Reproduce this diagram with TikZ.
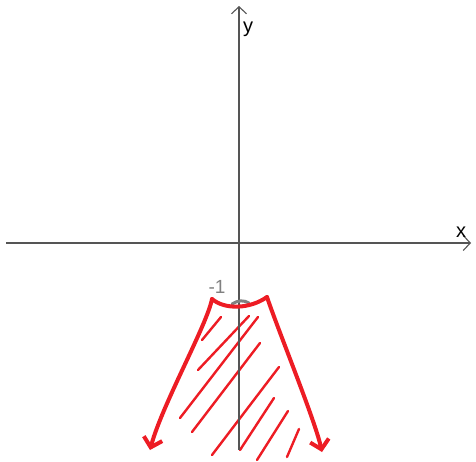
\documentclass[tikz,border=0pt]{standalone}
\usepackage{fontspec}
\setmainfont{Liberation Sans}
\usetikzlibrary{arrows.meta}
\definecolor{penred}{RGB}{237,28,36}
\definecolor{axisgray}{RGB}{85,85,85}
\definecolor{pencilgray}{RGB}{128,128,128}
\tikzset{
  axisline/.style={-{Straight Barb[length=7pt,width=15pt]}, line width=1.1pt, axisgray},
  axislabel/.style={font=\fontsize{20}{20}\selectfont, inner sep=0pt, text=black},
  boundary/.style={penred, line width=4pt, line cap=round, line join=round},
  boundarr/.style={boundary, -{Straight Barb[length=9pt,width=19pt]}},
  hatchline/.style={penred, line width=2.4pt, line cap=round},
  pencil/.style={pencilgray, line width=3pt, line cap=round},
}

\begin{document}
\begin{tikzpicture}[x=1pt,y=-1pt]
  \useasboundingbox (0,0) rectangle (476,461);
  % hatching inside the region
  \foreach \ax/\ay/\bx/\by in {221/317/202/340, 249/316/198/370,
      258/317/180/418, 260/343/192/432, 279/367/212/455,
      274/398/240/450, 288/411/257/460, 299/429/287/457}
    \draw[hatchline] (\ax,\ay) -- (\bx,\by);
  % axes
  \coordinate (xl) at (6,243);
  \coordinate (xr) at (471,243);
  \coordinate (yb) at (239,450);
  \coordinate (yt) at (239,6);
  \draw[axisline] (xl) -- (xr);
  \draw[axisline] (yb) -- (yt);
  \node[axislabel] (xlab) at (461,232) {x};
  \node[axislabel] (ylab) at (248,29) {y};
  % mark at -1
  \node[font=\fontsize{19}{19}\selectfont, text=pencilgray, inner sep=0pt] (mone) at (217,287) {-1};
  \draw[pencil] (232,304) .. controls (238,300) and (244,300) .. (249,303);
  % boundary
  \coordinate (capl) at (212,299);
  \coordinate (capr) at (267,297);
  \coordinate (tipl) at (150,450);
  \coordinate (tipr) at (322,452);
  \draw[boundary] (capl) .. controls (225,310) and (250,309) .. (capr);
  \draw[boundarr] (capl) .. controls (207,325) and (162,405) .. (tipl);
  \draw[boundarr] (capr) .. controls (278,330) and (315,420) .. (tipr);
\end{tikzpicture}
\end{document}
